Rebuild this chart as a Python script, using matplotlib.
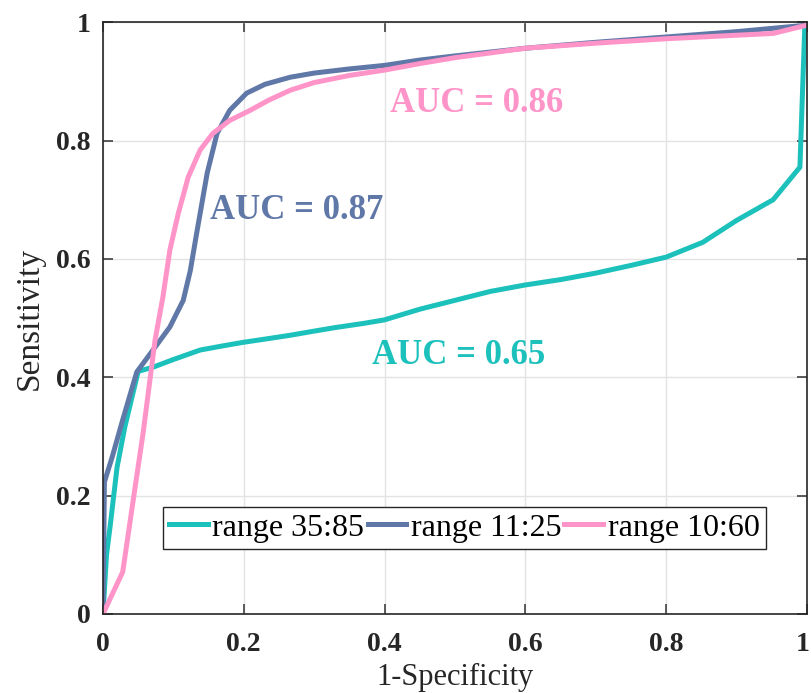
import matplotlib
matplotlib.use("Agg")
import matplotlib.pyplot as plt
from matplotlib.transforms import ScaledTranslation

# ROC curves for the three ranges
cyan_x = [0, 0.005, 0.01, 0.02, 0.031, 0.05, 0.071, 0.10, 0.138, 0.17, 0.199, 0.233, 0.266, 0.30,
          0.33, 0.37, 0.40, 0.45, 0.50, 0.55, 0.60, 0.65, 0.70, 0.75, 0.80, 0.852, 0.90, 0.952,
          0.99, 0.997, 1.0]
cyan_y = [0, 0.10, 0.147, 0.248, 0.316, 0.41, 0.417, 0.43, 0.446, 0.453, 0.459, 0.465, 0.471, 0.478,
          0.484, 0.491, 0.497, 0.515, 0.53, 0.545, 0.556, 0.565, 0.576, 0.589, 0.603, 0.628, 0.665,
          0.70, 0.755, 0.995, 1.0]

blue_x = [0, 0.002, 0.013, 0.028, 0.048, 0.071, 0.095, 0.114, 0.124, 0.133, 0.148, 0.162,
          0.18, 0.204, 0.23, 0.266, 0.30, 0.35, 0.40, 0.45, 0.50, 0.60, 0.70, 0.80, 0.90, 1.0]
blue_y = [0, 0.223, 0.265, 0.328, 0.409, 0.446, 0.485, 0.53, 0.58, 0.643, 0.745, 0.812,
          0.851, 0.88, 0.895, 0.907, 0.914, 0.921, 0.927, 0.936, 0.943, 0.956, 0.966, 0.975,
          0.984, 0.995]

pink_x = [0, 0.028, 0.043, 0.057, 0.074, 0.085, 0.095, 0.107, 0.121, 0.138, 0.156, 0.18,
          0.209, 0.235, 0.266, 0.30, 0.35, 0.40, 0.45, 0.50, 0.60, 0.706, 0.80, 0.952, 1.0]
pink_y = [0, 0.071, 0.193, 0.306, 0.463, 0.535, 0.615, 0.677, 0.738, 0.784, 0.812, 0.834,
          0.851, 0.868, 0.885, 0.898, 0.91, 0.919, 0.93, 0.94, 0.956, 0.965, 0.972, 0.981, 0.995]

labels = ["range 35:85", "range 11:25", "range 10:60"]
aucs = [0.65, 0.87, 0.86]
colors = ["#1cc1bc", "#6078a8", "#ff94c8"]
ticks = [0, 0.2, 0.4, 0.6, 0.8, 1.0]
tick_labels = ["0", "0.2", "0.4", "0.6", "0.8", "1"]

plt.rcParams["font.family"] = ["Liberation Serif", "DejaVu Serif"]

fig = plt.figure(figsize=(8.11, 6.93), dpi=100)
ax = fig.add_axes([0.127, 0.114, 0.868, 0.854])

curves = [(cyan_x, cyan_y), (blue_x, blue_y), (pink_x, pink_y)]
for (x, y), lab, c in zip(curves, labels, colors):
    ax.plot(x, y, color=c, lw=3.6, label=lab)

# AUC annotations
ax.text(0.382, 0.4375, "AUC = %.2f" % aucs[0], color=colors[0], fontsize=25,
        fontweight="bold", va="center")
ax.text(0.152, 0.682, "AUC = %.2f" % aucs[1], color=colors[1], fontsize=25,
        fontweight="bold", va="center")
ax.text(0.408, 0.863, "AUC = %.2f" % aucs[2], color=colors[2], fontsize=25,
        fontweight="bold", va="center")

ax.set_xlim(0, 1)
ax.set_ylim(0, 1)
ax.set_xticks(ticks)
ax.set_xticklabels(tick_labels)
ax.set_yticks(ticks)
ax.set_yticklabels(tick_labels)
ax.grid(True, color="#e3e3e3", lw=1.0)
ax.set_axisbelow(True)
ax.tick_params(direction="in", length=7, width=1.2, color="#404040",
               top=True, right=True, labelsize=20)
ax.tick_params(axis="x", pad=13)
ax.tick_params(axis="y", pad=9)
for lbl in ax.get_xticklabels() + ax.get_yticklabels():
    lbl.set_fontweight("bold")
    lbl.set_color("#262626")
# keep the last x label inside the figure edge
last = ax.get_xticklabels()[-1]
last.set_horizontalalignment("right")
last.set_transform(last.get_transform() + ScaledTranslation(0.03, 0, fig.dpi_scale_trans))
for s in ax.spines.values():
    s.set_color("#262626")
    s.set_linewidth(1.2)

ax.set_xlabel("1-Specificity", fontsize=22, color="#262626", labelpad=4)
ax.set_ylabel("Sensitivity", fontsize=24, color="#262626", labelpad=8)

leg = ax.legend(loc="lower left", bbox_to_anchor=(0.085, 0.11), ncol=3, fontsize=23,
                handlelength=1.2, handletextpad=0.15, columnspacing=0.1,
                borderpad=0.2, borderaxespad=0, fancybox=False, framealpha=1,
                edgecolor="#262626")
leg.get_frame().set_linewidth(1.0)

fig.savefig("out.png", dpi=100)
